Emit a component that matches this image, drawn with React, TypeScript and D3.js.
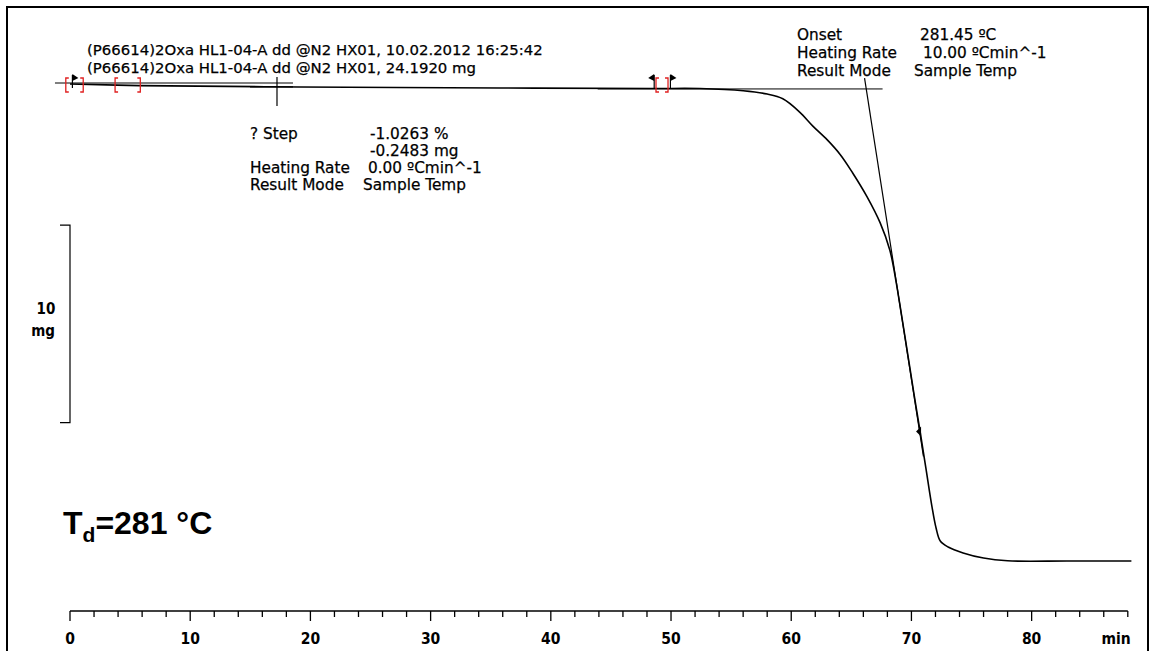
import React, { useEffect, useRef } from 'react';
import * as d3 from 'd3';

// TGA curve: time (min) vs. sample mass (mg)
const timeMin = [0, 5.8, 19.1, 35.8, 48.3, 52.4, 56.0, 58.0, 59.3, 60.7, 61.8, 63.0, 64.1, 65.1, 66.3, 67.4, 68.2, 68.7, 69.2, 69.7, 70.2, 70.7, 71.2, 71.7, 72.05, 72.4, 73.05, 74.3, 76.0, 78.0, 83.0, 88.3];
const massMg = [24.19, 24.11, 24.04, 23.99, 23.96, 23.96, 23.85, 23.68, 23.44, 22.77, 22.06, 21.36, 20.6, 19.7, 18.49, 17.16, 15.79, 14.27, 12.4, 10.48, 8.55, 6.68, 4.76, 2.83, 1.72, 1.06, 0.76, 0.46, 0.2, 0.06, 0.05, 0.05];

const majorTicks = [0, 10, 20, 30, 40, 50, 60, 70, 80];
const minorTicks = d3.range(0, 89, 2);

const headerLines = [
  '(P66614)2Oxa HL1-04-A dd @N2 HX01, 10.02.2012 16:25:42',
  '(P66614)2Oxa HL1-04-A dd @N2 HX01, 24.1920 mg',
];
const stepLabels = ['? Step', '', 'Heating Rate', 'Result Mode'];
const stepValues = ['-1.0263 %', '-0.2483 mg', '0.00 ºCmin^-1', 'Sample Temp'];
const onsetLabels = ['Onset', 'Heating Rate', 'Result Mode'];
const onsetValues = ['281.45 ºC', '10.00 ºCmin^-1', 'Sample Temp'];

// evaluation helper lines (time, mass)
const stepBaseline = [[-1.25, 24.24], [18.55, 24.24]];
const stepCross = [17.22, 24.04];
const onsetBaseline = [[43.9, 23.94], [67.6, 23.94]];
const onsetTangent = [[66.1, 24.49], [71.0, 5.35]];
const bracketPairs = [[-0.35, 1.1], [3.75, 5.85], [48.75, 49.75]];
const flags = [[0.2, 1], [48.6, -1], [49.95, 1]];
const scaleBarTop = 17.05;
const scaleBarSpan = 10;

const W = 1152;
const H = 651;
const FONT = "'DejaVu Sans', Verdana, sans-serif";
const TICK_FONT = "'DejaVu Sans Condensed', 'DejaVu Sans', sans-serif";

export default function App() {
  const svgRef = useRef<SVGSVGElement>(null);

  useEffect(() => {
    if (!svgRef.current) return;
    const svg = d3.select(svgRef.current);
    svg.selectAll('*').remove();

    const x = d3.scaleLinear().domain([0, 88]).range([70, 1127.8]);
    const y = d3.scaleLinear().domain([0, 24.19]).range([562, 84]);

    const label = (tx: number, ty: number, t: string, size = 15.3) =>
      svg.append('text').attr('x', tx).attr('y', ty)
        .style('font-family', FONT).style('font-size', `${size}px`)
        .attr('stroke', '#000').attr('stroke-width', 0.25)
        .text(t);

    // frame
    svg.append('rect')
      .attr('x', 7).attr('y', 7).attr('width', 1141).attr('height', 700)
      .attr('fill', 'none').attr('stroke', '#000').attr('stroke-width', 2);

    // header
    headerLines.forEach((t, i) => label(87, 55 + i * 18, t, 14.9));

    const line = d3.line<number[]>().x((d) => x(d[0])).y((d) => y(d[1]));

    // step evaluation
    svg.append('path').attr('d', line(stepBaseline as any))
      .attr('fill', 'none').attr('stroke', '#000').attr('stroke-width', 1);
    const cx = x(stepCross[0]);
    const cy = y(stepCross[1]);
    svg.append('line').attr('x1', cx).attr('x2', cx).attr('y1', cy - 10).attr('y2', cy + 19)
      .attr('stroke', '#000').attr('stroke-width', 1.2);
    svg.append('line').attr('x1', cx - 27).attr('x2', cx + 16).attr('y1', cy).attr('y2', cy)
      .attr('stroke', '#000').attr('stroke-width', 1.2);

    // onset evaluation
    svg.append('path').attr('d', line(onsetBaseline as any))
      .attr('fill', 'none').attr('stroke', '#000').attr('stroke-width', 1);
    svg.append('path').attr('d', line(onsetTangent as any))
      .attr('fill', 'none').attr('stroke', '#000').attr('stroke-width', 1.2);

    // curve
    const pts = timeMin.map((t, i) => [t, massMg[i]]);
    svg.append('path')
      .attr('d', d3.line<number[]>().x((d) => x(d[0])).y((d) => y(d[1])).curve(d3.curveCatmullRom.alpha(0.5))(pts))
      .attr('fill', 'none').attr('stroke', '#000').attr('stroke-width', 1.6);

    // red brackets
    bracketPairs.forEach(([a, b]) => {
      const top = 78;
      const bot = 92;
      const xa = x(a);
      const xb = x(b);
      svg.append('path')
        .attr('d', `M${xa + 3},${top}H${xa}V${bot}H${xa + 3}M${xb - 3},${top}H${xb}V${bot}H${xb - 3}`)
        .attr('fill', 'none').attr('stroke', '#e02020').attr('stroke-width', 1.3);
    });

    // flags
    flags.forEach(([t, dir]) => {
      const fx = x(t);
      svg.append('line').attr('x1', fx).attr('x2', fx).attr('y1', 75).attr('y2', 88)
        .attr('stroke', '#000').attr('stroke-width', 1.2);
      svg.append('path')
        .attr('d', `M${fx},${74}L${fx + dir * 6},${78}L${fx},${81}Z`)
        .attr('fill', '#000');
    });

    // marker on the curve
    const mx = x(70.72);
    const my = y(6.6);
    svg.append('path').attr('d', `M${mx - 4},${my}L${mx + 1},${my - 5}L${mx + 1},${my + 5}Z`).attr('fill', '#000');

    // step result block
    stepLabels.forEach((t, i) => {
      const by = 139 + i * 17;
      label(250, by, t);
      label([370, 370, 368, 363][i], by, stepValues[i]);
    });

    // onset block
    onsetLabels.forEach((t, i) => {
      const by = 40 + i * 18;
      label(797, by, t);
      label([920, 923, 914][i], by, onsetValues[i]);
    });

    // scale bar
    const sy1 = y(scaleBarTop);
    const sy2 = y(scaleBarTop - scaleBarSpan);
    svg.append('path').attr('d', `M60,${sy1}H70V${sy2}H60`)
      .attr('fill', 'none').attr('stroke', '#000').attr('stroke-width', 1.2);
    svg.append('text').attr('x', 46).attr('y', (sy1 + sy2) / 2 - 10).attr('text-anchor', 'middle')
      .style('font-family', TICK_FONT).style('font-size', '15px').style('font-weight', 'bold').text('10');
    svg.append('text').attr('x', 43).attr('y', (sy1 + sy2) / 2 + 12).attr('text-anchor', 'middle')
      .style('font-family', TICK_FONT).style('font-size', '15px').style('font-weight', 'bold').text('mg');

    // x axis
    const ax = svg.append('g').attr('transform', 'translate(0,611)');
    ax.append('line').attr('x1', x(0)).attr('x2', x(88)).attr('stroke', '#000').attr('stroke-width', 1.5);
    ax.selectAll('.tick').data(minorTicks).enter().append('line')
      .attr('x1', (d) => x(d)).attr('x2', (d) => x(d)).attr('y1', 0)
      .attr('y2', (d) => (d % 10 === 0 ? 10 : 6))
      .attr('stroke', '#000').attr('stroke-width', 1.3);
    ax.selectAll('.lbl').data(majorTicks).enter().append('text')
      .attr('x', (d) => x(d)).attr('y', 33).attr('text-anchor', 'middle')
      .style('font-family', TICK_FONT)
      .style('font-size', '15.5px').style('font-weight', 'bold')
      .text((d) => String(d));
    ax.append('text').attr('x', x(88) + 3).attr('y', 33).attr('text-anchor', 'end')
      .style('font-family', TICK_FONT)
      .style('font-size', '15.5px').style('font-weight', 'bold').text('min');

    // Td annotation
    const td = svg.append('text').attr('x', 63).attr('y', 534)
      .style('font-family', "'Liberation Sans', Arial, sans-serif")
      .style('font-size', '32px').style('font-weight', 'bold');
    td.append('tspan').text('T');
    td.append('tspan').attr('dy', 8).style('font-size', '21px').text('d');
    td.append('tspan').attr('dy', -8).text('=281 °C');
  }, []);

  return (
    <div style={{ position: 'fixed', left: 0, top: 0, width: W, height: H, background: '#fff' }}>
      <svg ref={svgRef} width={W} height={H} style={{ display: 'block' }} />
    </div>
  );
}
